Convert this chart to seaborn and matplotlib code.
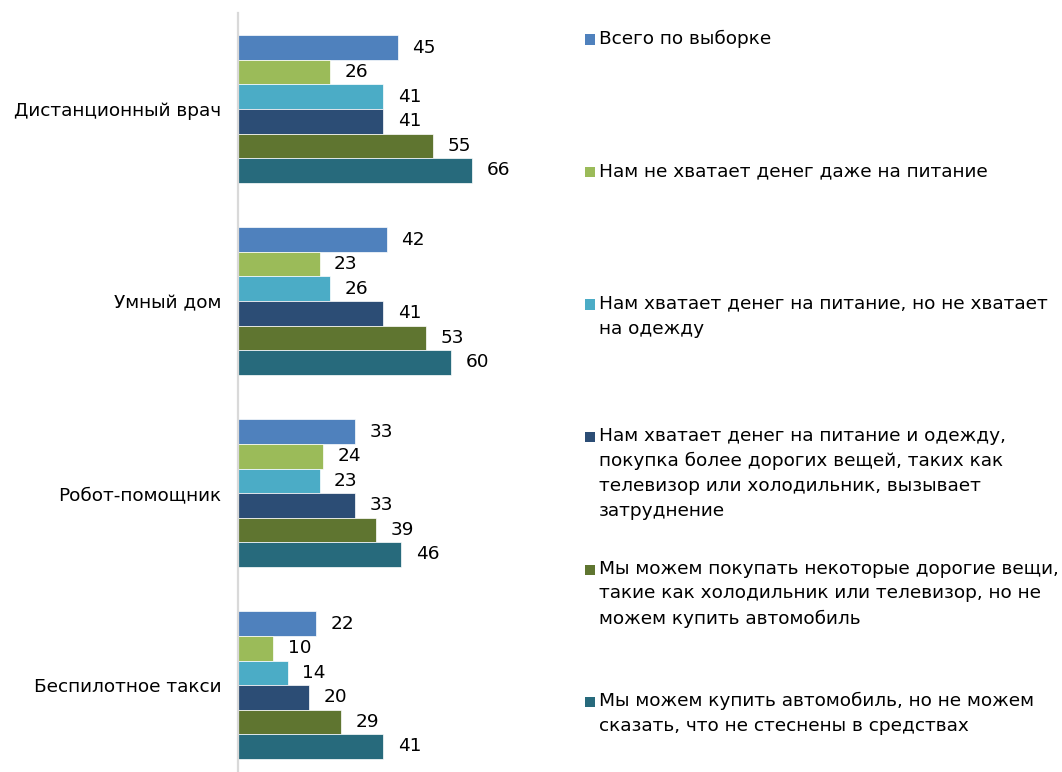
import matplotlib
matplotlib.use("Agg")
import matplotlib.pyplot as plt
from matplotlib.patches import Rectangle
import seaborn as sns
import pandas as pd

# Data
categories = ["Дистанционный врач", "Умный дом", "Робот-помощник", "Беспилотное такси"]
series = [
    "Всего по выборке",
    "Нам не хватает денег даже на питание",
    "Нам хватает денег на питание, но не хватает\nна одежду",
    "Нам хватает денег на питание и одежду,\nпокупка более дорогих вещей, таких как\nтелевизор или холодильник, вызывает\nзатруднение",
    "Мы можем покупать некоторые дорогие вещи,\nтакие как холодильник или телевизор, но не\nможем купить автомобиль",
    "Мы можем купить автомобиль, но не можем\nсказать, что не стеснены в средствах",
]
values_total = [45, 42, 33, 22]
values_no_food = [26, 23, 24, 10]
values_no_clothes = [41, 26, 23, 14]
values_hard_appliances = [41, 41, 33, 20]
values_no_car = [55, 53, 39, 29]
values_car = [66, 60, 46, 41]
colors = ["#4F81BD", "#9BBB59", "#4BACC6", "#2C4D75", "#5F7530", "#276A7C"]

all_values = [values_total, values_no_food, values_no_clothes,
              values_hard_appliances, values_no_car, values_car]
rows = []
for s, vals in zip(series, all_values):
    for c, v in zip(categories, vals):
        rows.append({"category": c, "group": s, "value": v})
df = pd.DataFrame(rows)

sns.set_style("white")
plt.rcParams["font.family"] = ["DejaVu Sans"]
FS = 13.3

W, H = 1062, 772
fig = plt.figure(figsize=(W / 100, H / 100), dpi=100)
ax_left, ax_top, ax_w = 238, 13, 320
ax = fig.add_axes([ax_left / W, 0, ax_w / W, (H - ax_top) / H])

sns.barplot(data=df, y="category", x="value", hue="group", order=categories,
            hue_order=series, palette=colors, saturation=1, orient="h",
            width=0.766, edgecolor="white", linewidth=0.5, legend=False, ax=ax)

ax.set_xlim(0, ax_w / 3.545)
ax.set_ylim(3.453, -0.5)
ax.set_xlabel("")
ax.set_ylabel("")
ax.set_xticks([])
ax.tick_params(axis="y", length=0, pad=12, labelsize=FS, labelcolor="black")
for side in ["top", "right", "bottom"]:
    ax.spines[side].set_visible(False)
ax.spines["left"].set_color("#D9D9D9")
ax.spines["left"].set_linewidth(1.6)

for cont in ax.containers:
    ax.bar_label(cont, fmt="%d", padding=10.5, fontsize=FS, color="black")

# Legend, one entry per income group
first_line_y = 39.5
step = 132.5
for i, (s, col) in enumerate(zip(series, colors)):
    yc = first_line_y + i * step
    fig.patches.append(Rectangle((585 / W, 1 - (yc + 5) / H), 10 / W, 10 / H,
                                 transform=fig.transFigure, facecolor=col,
                                 edgecolor="none"))
    fig.text(599 / W, 1 - (yc - 10) / H, s, fontsize=FS, va="top", ha="left",
             linespacing=1.5, color="black")

fig.savefig("out.png", dpi=100)
